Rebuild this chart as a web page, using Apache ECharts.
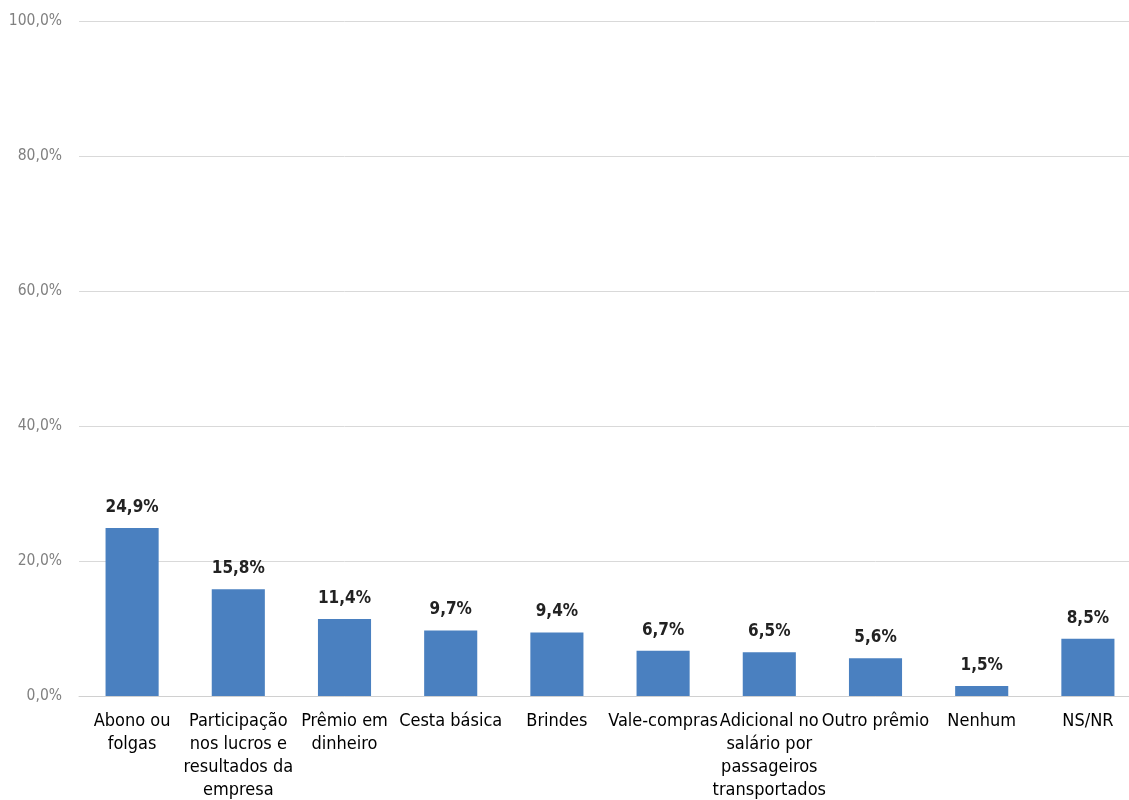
<!DOCTYPE html>
<html>
<head>
<meta charset="utf-8">
<script src="https://cdn.jsdelivr.net/npm/echarts@6/dist/echarts.min.js"></script>
<style>html,body{margin:0;padding:0;background:#fff;overflow:hidden;width:1129px;height:800px;}#c{width:1141px;height:800px;}</style>
</head>
<body>
<div id="c"></div>
<script>
const categories = ["Abono ou\nfolgas", "Participação\nnos lucros e\nresultados da\nempresa", "Prêmio em\ndinheiro", "Cesta básica", "Brindes", "Vale-compras", "Adicional no\nsalário por\npassageiros\ntransportados", "Outro prêmio", "Nenhum", "NS/NR"];
const values = [24.9, 15.8, 11.4, 9.7, 9.4, 6.7, 6.5, 5.6, 1.5, 8.5];
const yTicks = [0, 20, 40, 60, 80, 100];

const FONT = '"Liberation Sans Narrow", "DejaVu Sans Condensed", "Roboto Condensed", sans-serif';
const fmt = v => v.toFixed(1).replace('.', ',') + '%';

const chart = echarts.init(document.getElementById('c'), null, {renderer: 'canvas'});
chart.setOption({
  animation: false,
  grid: {left: 79, top: 21, right: 0, bottom: 104, containLabel: false, outerBoundsMode: 'none'},
  xAxis: {
    type: 'category',
    data: categories,
    axisLine: {lineStyle: {color: '#d0d0d0', width: 1}},
    axisTick: {show: false},
    axisLabel: {color: '#000', fontFamily: FONT, fontSize: 18, lineHeight: 23, margin: 14, interval: 0}
  },
  yAxis: {
    type: 'value',
    min: yTicks[0], max: yTicks[yTicks.length - 1], interval: 20,
    axisLine: {show: false},
    axisTick: {show: false},
    splitLine: {lineStyle: {color: '#d9d9d9', width: 1}},
    axisLabel: {color: '#808080', fontFamily: FONT, fontSize: 15.5, margin: 17, formatter: v => fmt(v)}
  },
  series: [{
    type: 'bar',
    data: values,
    barWidth: '50%',
    itemStyle: {color: '#4a80c0'},
    label: {show: true, position: 'top', distance: 12, color: '#222', fontFamily: FONT, fontSize: 17, fontWeight: 'bold', formatter: p => fmt(p.value)}
  }]
});
</script>
</body>
</html>
